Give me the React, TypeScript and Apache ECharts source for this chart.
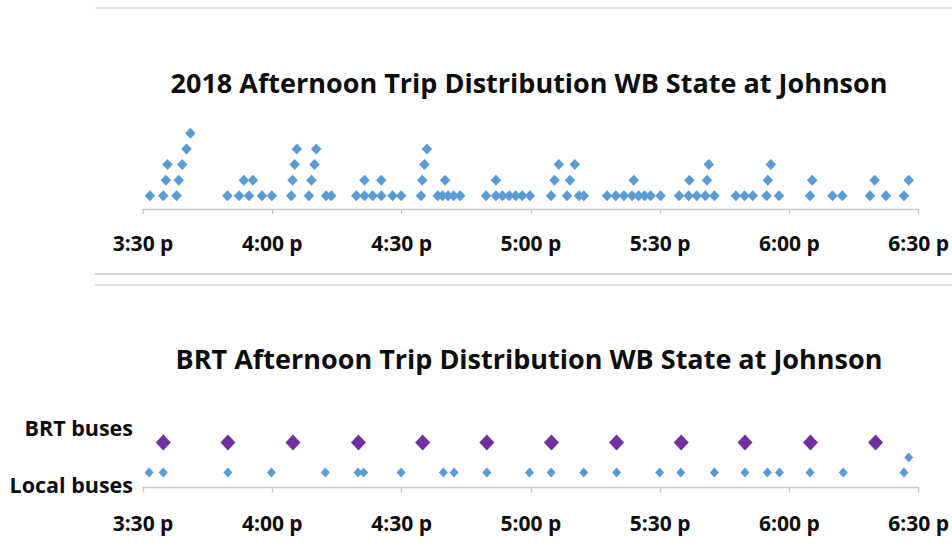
import React, { useEffect, useRef } from "react";
import * as echarts from "echarts";

// Time axis: minutes after 3:30 pm
const axisMin = 0;
const axisMax = 180;
const axisStep = 30;
const tickLabels = ["3:30 p", "4:00 p", "4:30 p", "5:00 p", "5:30 p", "6:00 p", "6:30 p"];

// 2018 trips, grouped by stack level in the dot plot (minutes after 3:30 pm)
const trips2018Level1 = [1.6, 4.7, 7.8, 19.6, 22.3, 24.6, 27.6, 29.9, 34.4, 38.5, 42.5, 43.7, 49.5, 51.4, 53.3, 55.3, 57.9, 59.9, 64.5, 68.4, 69.5, 70.8, 72.1, 73.6, 79.6, 81.9, 83.4, 85.0, 86.5, 88.0, 89.8, 94.7, 98.4, 101.2, 102.3, 107.7, 109.7, 111.6, 113.5, 115.0, 116.4, 117.8, 120.1, 124.4, 126.6, 128.5, 130.5, 132.6, 137.6, 139.6, 141.5, 144.7, 147.6, 154.8, 160.0, 162.3, 168.7, 172.4, 176.6];
const trips2018Level2 = [5.3, 8.3, 23.4, 25.5, 34.7, 39.1, 51.4, 55.3, 64.8, 70.1, 81.9, 95.5, 99.1, 113.9, 126.8, 130.9, 145.0, 155.3, 169.8, 177.7];
const trips2018Level3 = [5.7, 9.1, 35.2, 39.8, 65.3, 96.5, 100.2, 131.3, 145.7];
const trips2018Level4 = [10.1, 35.7, 40.2, 65.9];
const trips2018Level5 = [11.0];

// BRT scenario
const brtBusTimes = [4.7, 19.7, 34.8, 50, 64.9, 79.8, 94.8, 109.9, 124.9, 139.7, 154.9, 170];
const localBusLevel1 = [1.4, 4.7, 19.7, 29.8, 42.3, 49.9, 51.2, 59.9, 69.7, 72.2, 79.8, 89.7, 94.7, 102.3, 109.9, 119.9, 124.8, 132.6, 139.7, 144.9, 147.7, 154.8, 162.5, 176.6];
const localBusLevel2 = [177.7];
const brtRow = 3;

const title1 = "2018 Afternoon Trip Distribution WB State at Johnson";
const title2 = "BRT Afternoon Trip Distribution WB State at Johnson";

const FONT = "'Open Sans', 'Noto Sans', sans-serif";

export default function App() {
  const ref = useRef<HTMLDivElement>(null);
  useEffect(() => {
    document.body.style.margin = "0";
    if (!ref.current) return;
    const chart = echarts.init(ref.current, undefined, { renderer: "svg" });

    const levels2018 = [trips2018Level1, trips2018Level2, trips2018Level3, trips2018Level4, trips2018Level5];
    const data2018: number[][] = [];
    levels2018.forEach((arr, i) => arr.forEach((t) => data2018.push([t, i + 1])));
    const localData: number[][] = [];
    localBusLevel1.forEach((t) => localData.push([t, 1]));
    localBusLevel2.forEach((t) => localData.push([t, 2]));
    const brtData = brtBusTimes.map((t) => [t, brtRow]);

    const xAxisCommon = {
      type: "value",
      min: axisMin,
      max: axisMax,
      interval: axisStep,
      splitLine: { show: false },
      axisLine: { show: true, lineStyle: { color: "#c6c6c6", width: 1.3 } },
      axisTick: { show: true, length: 5, lineStyle: { color: "#c6c6c6", width: 1.3 } },
      axisLabel: {
        margin: 23,
        color: "#0d0d0d",
        fontFamily: FONT,
        fontWeight: "bold",
        fontSize: 21,
        formatter: (v: number) => tickLabels[Math.round((v - axisMin) / axisStep)] ?? "",
      },
    };

    chart.setOption({
      animation: false,
      grid: [
        { left: 143, right: 31, top: 117.7, height: 91.3 },
        { left: 143, right: 31, top: 427.5, height: 61.5 },
      ],
      xAxis: [
        { ...xAxisCommon, gridIndex: 0 },
        { ...xAxisCommon, gridIndex: 1 },
      ],
      yAxis: [
        { type: "value", gridIndex: 0, min: 0.15, max: 6, show: false },
        { type: "value", gridIndex: 1, min: -0.1, max: 4, show: false },
      ],
      series: [
        {
          type: "scatter",
          xAxisIndex: 0,
          yAxisIndex: 0,
          symbol: "diamond",
          symbolSize: [10.5, 11],
          itemStyle: { color: "#5B9BD5", opacity: 1 },
          data: data2018,
        },
        {
          type: "scatter",
          xAxisIndex: 1,
          yAxisIndex: 1,
          symbol: "diamond",
          symbolSize: [9, 10],
          itemStyle: { color: "#5B9BD5", opacity: 1 },
          data: localData,
        },
        {
          type: "scatter",
          xAxisIndex: 1,
          yAxisIndex: 1,
          symbol: "diamond",
          symbolSize: [15, 16],
          itemStyle: { color: "#7030A0", opacity: 1 },
          data: brtData,
        },
      ],
      graphic: [
        { type: "rect", shape: { x: 95, y: 7, width: 857, height: 2 }, style: { fill: "#e2e2e2" } },
        { type: "rect", shape: { x: 95, y: 273, width: 857, height: 2 }, style: { fill: "#d6d6d6" } },
        { type: "rect", shape: { x: 95, y: 284, width: 857, height: 2 }, style: { fill: "#e0e0e0" } },
        {
          type: "text",
          x: 529,
          y: 82,
          style: { text: title1, font: `bold 27px ${FONT}`, fill: "#0d0d0d", align: "center", verticalAlign: "middle" },
        },
        {
          type: "text",
          x: 529,
          y: 358,
          style: { text: title2, font: `bold 27px ${FONT}`, fill: "#0d0d0d", align: "center", verticalAlign: "middle" },
        },
        {
          type: "text",
          x: 133,
          y: 427,
          style: { text: "BRT buses", font: `bold 21.5px ${FONT}`, fill: "#0d0d0d", align: "right", verticalAlign: "middle" },
        },
        {
          type: "text",
          x: 133,
          y: 484,
          style: { text: "Local buses", font: `bold 21.5px ${FONT}`, fill: "#0d0d0d", align: "right", verticalAlign: "middle" },
        },
      ],
    });
    return () => chart.dispose();
  }, []);
  return <div ref={ref} style={{ width: 952, height: 548 }} />;
}
